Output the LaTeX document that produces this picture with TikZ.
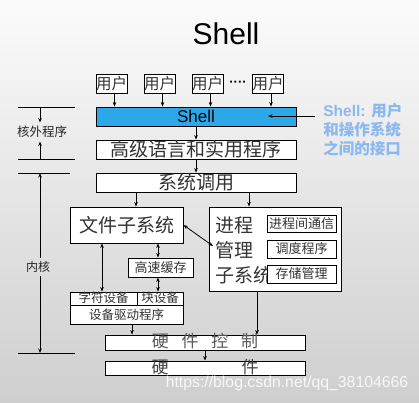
\documentclass[tikz,border=0pt]{standalone}
\usepackage{fontspec}
\setmainfont{Liberation Sans}
\newfontfamily\cjk{Noto Sans CJK SC}
\usetikzlibrary{arrows.meta}
\definecolor{shellblue}{RGB}{44,168,232}
\definecolor{noteblue}{RGB}{138,184,240}
\tikzset{
  box/.style={draw,line width=0.9pt,fill=white,inner sep=0pt,text=black!80,
    font=\cjk\fontsize{#1}{#1}\selectfont},
  box/.default=19,
  tight/.style={text height=#1,text depth=1pt},
  tight/.default=8pt,
  side/.style={font=\cjk\fontsize{#1}{#1}\selectfont,text=black!85},
}
\begin{document}
\begin{tikzpicture}[x=1pt,y=-1pt,>={Stealth[length=4.5pt,width=3.5pt]},line width=0.8pt]
  % 背景
  \shade[top color=gray!3,bottom color=gray!38] (0,0) rectangle (419,402);
  \useasboundingbox (0,0) rectangle (419,402);
  % 标题
  \node[font=\fontsize{30}{30}\selectfont] (title) at (226,34) {Shell};

  % 用户
  \foreach \i/\x in {1/111.5,2/159.5,3/207.5,4/268}{
    \node[box=15.5,minimum width=31pt,minimum height=19pt] (u\i) at (\x,83.5) {用户};
  }
  \node[font=\bfseries\fontsize{13}{13}\selectfont] (dots) at (238,84) {····};

  % 各层
  \node[box,fill=shellblue,text=black,minimum width=200pt,minimum height=19pt,
    font=\fontsize{17}{17}\selectfont] (shell) at (196,116.5) {Shell};
  \node[box,minimum width=200pt,minimum height=19pt] (hll) at (196,149.5) {高级语言和实用程序};
  \node[box,minimum width=200pt,minimum height=19pt] (sys) at (196,182.5) {系统调用};
  \node[box,minimum width=113pt,minimum height=36pt] (fs) at (126.5,225) {文件子系统};
  \node[box,minimum width=132pt,minimum height=84pt] (pm) at (275,249) {};
  \node[anchor=west,align=left,inner sep=0pt,text=black!80,
    font=\cjk\fontsize{19}{25}\selectfont] (pmtxt) at (215,250) {进程\\管理\\子系统};
  \node[box=13,minimum width=69pt,minimum height=17pt] (ipc) at (301.5,223.5) {进程间通信};
  \node[box=13,minimum width=69pt,minimum height=18pt] (sched) at (301.5,249) {调度程序};
  \node[box=13,minimum width=69pt,minimum height=18pt] (mem) at (301.5,274) {存储管理};
  \node[box=13,minimum width=65pt,minimum height=19pt] (cache) at (160.5,267.5) {高速缓存};
  \node[box=12.5,tight,minimum width=67pt,minimum height=13pt] (chr) at (103.5,298.5) {字符设备};
  \node[box=12.5,tight,minimum width=46pt,minimum height=13pt] (blk) at (160,298.5) {块设备};
  \node[box=12.5,minimum width=113pt,minimum height=19pt] (drv) at (126.5,314.5) {设备驱动程序};
  \node[box=17,tight=11pt,text=black!65,minimum width=200pt,minimum height=15pt]
    (hwc) at (205,342.5) {硬\hspace{12.7pt}件\hspace{12.7pt}控\hspace{12.7pt}制};
  \node[box=17,tight=11pt,text=black!75,minimum width=200pt,minimum height=14pt]
    (hw) at (205,368) {硬\hspace{73pt}件};

  % 连线
  \foreach \i in {1,...,4}
    \draw[->] ([xshift=3pt]u\i.south) -- ([xshift=3pt]u\i.south |- shell.north);
  \draw[->] (shell) -- (hll);
  \draw[->] (hll) -- (sys);
  \draw[->] (sys.south -| 136,0) -- (fs.north -| 136,0);
  \draw[->] (sys.south -| 249,0) -- (pm.north -| 249,0);
  \coordinate (pmin) at (213,246);
  \draw[<->] (fs.east) -- (pmin);
  \draw[<->] (fs.south -| 102,0) -- (chr.north -| 102,0);
  \draw[<->] (fs.south -| 158,0) -- (cache.north -| 158,0);
  \draw[<->] (cache.south -| 158,0) -- (blk.north -| 158,0);
  \draw[->] (drv.south -| 132,0) -- (hwc.north -| 132,0);
  \draw[->] (pm.south -| 257,0) -- (hwc.north -| 257,0);
  \draw[->] (hwc) -- (hw);

  % 右侧说明
  \node[anchor=west,align=left,inner sep=0pt,text=noteblue,
    font=\bfseries\fontsize{15.5}{19}\selectfont] (note) at (323,130)
    {Shell: {\cjk 用户}\\{\cjk 和操作系统}\\{\cjk 之间的接口}};
  \coordinate (notetail) at (315,116);
  \coordinate (notehead) at (268,116);
  \draw[->] (notetail) -- (notehead);

  % 左侧标注
  \draw (18,107) -- (75,107) (18,159) -- (75,159)
        (18,173) -- (70,173) (18,353) -- (75,353);
  \node[side=12.5] (outer) at (42,132) {核外程序};
  \draw[->] (40,107) -- (outer.north -| 40,0);
  \draw[->] (40,159) -- (outer.south -| 40,0);
  \node[side=12] (kernel) at (38,267) {内核};
  \draw[->] (kernel.north -| 40,0) -- (40,173);
  \draw[->] (kernel.south -| 40,0) -- (40,353);

  % 水印
  \node[text=white,opacity=0.85,font=\fontsize{15.8}{15.8}\selectfont] (mark) at (287,383)
    {https://blog.csdn.net/qq\_38104666};
\end{tikzpicture}
\end{document}
